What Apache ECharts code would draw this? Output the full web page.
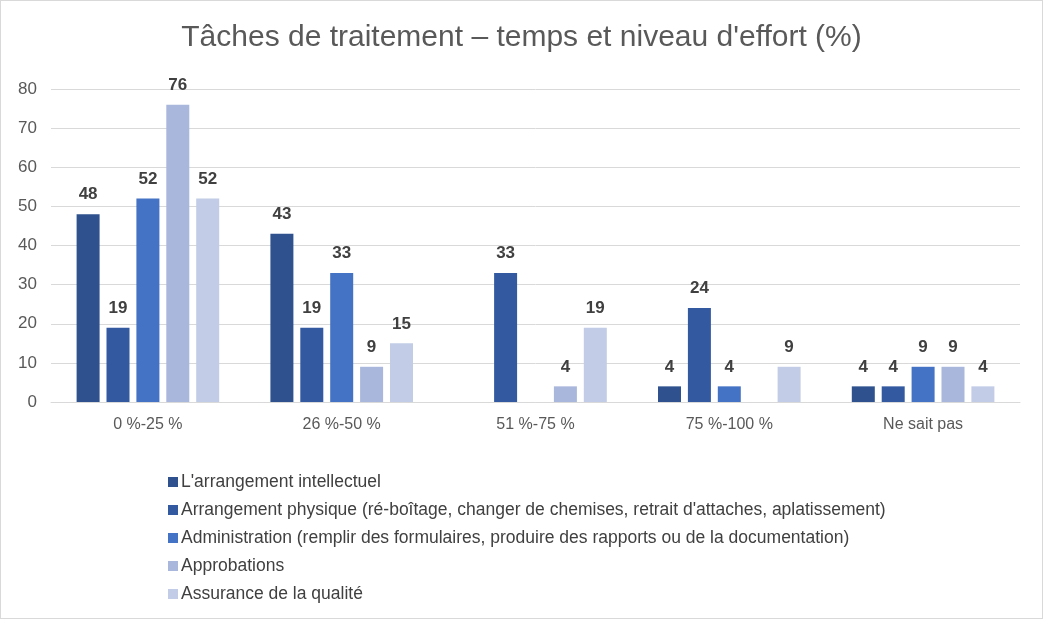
<!DOCTYPE html>
<html>
<head>
<meta charset="utf-8">
<script src="https://cdn.jsdelivr.net/npm/echarts@6/dist/echarts.min.js"></script>
<style>
html,body{margin:0;padding:0;background:#fff;}
#c{position:absolute;left:0;top:0;width:1041px;height:617px;border:1px solid #d9d9d9;}
</style>
</head>
<body>
<div id="c"></div>
<script>
const categories = ['0 %-25 %', '26 %-50 %', '51 %-75 %', '75 %-100 %', 'Ne sait pas'];
const seriesNames = [
  "L'arrangement intellectuel",
  "Arrangement physique (ré-boîtage, changer de chemises, retrait d'attaches, aplatissement)",
  "Administration (remplir des formulaires, produire des rapports ou de la documentation)",
  "Approbations",
  "Assurance de la qualité"
];
const intellectuel = [48, 43, null, 4, 4];
const physique = [19, 19, 33, 24, 4];
const administration = [52, 33, null, 4, 9];
const approbations = [76, 9, 4, null, 9];
const qualite = [52, 15, 19, 9, 4];
const yTicks = [0, 10, 20, 30, 40, 50, 60, 70, 80];
const colors = ['#2F528F', '#335AA1', '#4472C4', '#A9B7DC', '#C2CCE6'];

const allData = [intellectuel, physique, administration, approbations, qualite];
const FONT = 'Liberation Sans, sans-serif';
const chart = echarts.init(document.getElementById('c'));
chart.setOption({
  animation: false,
  color: colors,
  title: {
    text: "Tâches de traitement – temps et niveau d'effort (%)",
    left: 'center', top: 17,
    textStyle: {fontFamily: FONT, fontSize: 30, fontWeight: 'normal', color: '#595959'}
  },
  legend: {
    orient: 'vertical', left: 162, top: 467,
    itemWidth: 10, itemHeight: 10, itemGap: 10,
    icon: 'rect',
    textStyle: {fontFamily: FONT, fontSize: 17.5, color: '#404040', padding: [0,0,0,-2]},
    data: seriesNames
  },
  grid: {left: 50, right: 22, top: 88, bottom: 216, containLabel: false},
  xAxis: {
    type: 'category', data: categories,
    axisLine: {lineStyle: {color: '#d9d9d9'}},
    axisTick: {show: false},
    axisLabel: {fontFamily: FONT, fontSize: 16, color: '#595959', margin: 15}
  },
  yAxis: {
    type: 'value', min: yTicks[0], max: yTicks[yTicks.length-1], interval: 10,
    axisLine: {show: false}, axisTick: {show: false},
    splitLine: {lineStyle: {color: '#d9d9d9'}},
    axisLabel: {fontFamily: FONT, fontSize: 17, color: '#595959', margin: 14}
  },
  series: allData.map((d, i) => ({
    name: seriesNames[i], type: 'bar', data: d,
    barWidth: 23, barGap: '30%',
    itemStyle: {color: colors[i]},
    label: {show: true, position: 'top', distance: 11, fontFamily: FONT, fontSize: 17, fontWeight: 'bold', color: '#404040'}
  }))
});
</script>
</body>
</html>
